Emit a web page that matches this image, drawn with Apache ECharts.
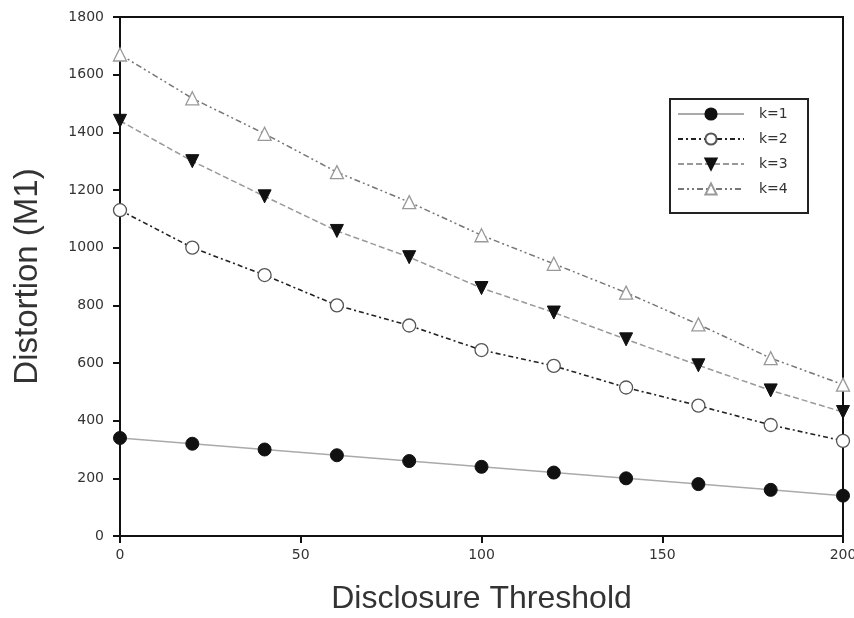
<!DOCTYPE html>
<html>
<head>
<meta charset="utf-8">
<script src="https://cdn.jsdelivr.net/npm/echarts@6/dist/echarts.min.js"></script>
<style>
  html, body { margin: 0; padding: 0; background: #fff; }
  #chart { width: 854px; height: 618px; }
</style>
</head>
<body>
<div id="chart"></div>
<script>
// Disclosure threshold values on the x axis
const thresholds = [0, 20, 40, 60, 80, 100, 120, 140, 160, 180, 200];

// Distortion (M1) for each k
const k1 = [340, 320, 300, 280, 260, 240, 220, 200, 180, 160, 140];
const k2 = [1130, 1000, 905, 800, 730, 645, 590, 515, 452, 385, 330];
const k3 = [1440, 1300, 1178, 1058, 967, 860, 775, 682, 592, 505, 430];
const k4 = [1670, 1518, 1395, 1262, 1158, 1043, 944, 844, 734, 617, 525];

const seriesNames = ['k=1', 'k=2', 'k=3', 'k=4'];

const xTicks = [0, 50, 100, 150, 200];
const yTicks = [0, 200, 400, 600, 800, 1000, 1200, 1400, 1600, 1800];

const pairs = (ys) => thresholds.map((x, i) => [x, ys[i]]);

const titleFont = 'Liberation Sans, Arial, sans-serif';
const tickFont = 'DejaVu Sans, sans-serif';

const chart = echarts.init(document.getElementById('chart'), null, { renderer: 'canvas' });

chart.setOption({
  animation: false,
  backgroundColor: '#ffffff',
  grid: {
    left: 120, right: 11, top: 17, bottom: 82,
    outerBoundsMode: 'none',
    containLabel: false,
    show: true, borderColor: '#111', borderWidth: 2, backgroundColor: 'transparent'
  },
  // frame around the legend
  graphic: [{
    type: 'rect', left: 669, top: 98, z: 10,
    shape: { width: 138, height: 114 },
    style: { fill: 'transparent', stroke: '#222', lineWidth: 2 }
  }],
  legend: {
    data: seriesNames,
    orient: 'vertical',
    left: 677, top: 107,
    padding: 0,
    itemGap: 11,
    itemWidth: 66,
    itemHeight: 14,
    backgroundColor: 'transparent',
    textStyle: { fontFamily: tickFont, fontSize: 14, color: '#333', padding: [0, 0, 0, 10] }
  },
  xAxis: {
    type: 'value',
    min: xTicks[0], max: xTicks[xTicks.length - 1], interval: 50,
    name: 'Disclosure Threshold',
    nameLocation: 'middle',
    nameGap: 47,
    nameTextStyle: { fontFamily: titleFont, fontSize: 32, color: '#333' },
    axisLine: { show: true, onZero: false, lineStyle: { color: '#111', width: 2 } },
    axisTick: { show: true, inside: false, length: 7, lineStyle: { color: '#111', width: 2 } },
    axisLabel: { fontFamily: tickFont, fontSize: 14, color: '#333', margin: 12 },
    splitLine: { show: false }
  },
  yAxis: {
    type: 'value',
    min: yTicks[0], max: yTicks[yTicks.length - 1], interval: 200,
    name: 'Distortion (M1)',
    nameLocation: 'middle',
    nameGap: 76,
    nameTextStyle: { fontFamily: titleFont, fontSize: 33, color: '#333' },
    axisLine: { show: true, onZero: false, lineStyle: { color: '#111', width: 2 } },
    axisTick: { show: true, inside: false, length: 7, lineStyle: { color: '#111', width: 2 } },
    axisLabel: {
      fontFamily: tickFont, fontSize: 14, color: '#333', margin: 16,
      formatter: (v) => String(v)
    },
    splitLine: { show: false }
  },
  series: [
    {
      name: seriesNames[0], type: 'line', data: pairs(k1),
      symbol: 'circle', symbolSize: 13,
      lineStyle: { color: '#aaa', width: 1.5, type: 'solid' },
      itemStyle: { color: '#111', borderColor: '#111', borderWidth: 1 },
      z: 5
    },
    {
      name: seriesNames[1], type: 'line', data: pairs(k2),
      symbol: 'circle', symbolSize: 13,
      lineStyle: { color: '#222', width: 1.6, type: [5, 3, 2, 3] },
      itemStyle: { color: '#fff', borderColor: '#555', borderWidth: 1.3 },
      z: 4
    },
    {
      name: seriesNames[2], type: 'line', data: pairs(k3),
      symbol: 'triangle', symbolRotate: 180, symbolSize: 13,
      lineStyle: { color: '#999', width: 1.5, type: [6, 3] },
      itemStyle: { color: '#111', borderColor: '#111', borderWidth: 1 },
      z: 3
    },
    {
      name: seriesNames[3], type: 'line', data: pairs(k4),
      symbol: 'triangle', symbolSize: 13,
      lineStyle: { color: '#777', width: 1.5, type: [6, 3, 2, 3, 2, 3] },
      itemStyle: { color: '#fff', borderColor: '#999', borderWidth: 1.3 },
      z: 2
    }
  ]
});
</script>
</body>
</html>
